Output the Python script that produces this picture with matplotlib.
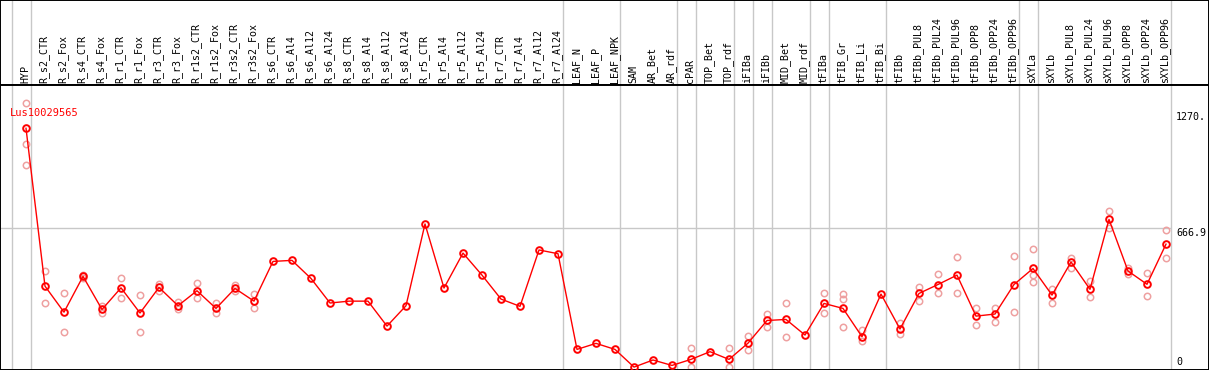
import numpy as np
import matplotlib
matplotlib.use("Agg")
import matplotlib.pyplot as plt

# =========================
# data
# =========================
samples = ["HYP", "R_s2_CTR", "R_s2_Fox", "R_s4_CTR", "R_s4_Fox", "R_r1_CTR", "R_r1_Fox",
           "R_r3_CTR", "R_r3_Fox", "R_r1s2_CTR", "R_r1s2_Fox", "R_r3s2_CTR", "R_r3s2_Fox",
           "R_s6_CTR", "R_s6_Al4", "R_s6_Al12", "R_s6_Al24", "R_s8_CTR", "R_s8_Al4",
           "R_s8_Al12", "R_s8_Al24", "R_r5_CTR", "R_r5_Al4", "R_r5_Al12", "R_r5_Al24",
           "R_r7_CTR", "R_r7_Al4", "R_r7_Al12", "R_r7_Al24", "LEAF_N", "LEAF_P", "LEAF_NPK",
           "SAM", "AR_Bet", "AR_rdf", "cPAR", "TOP_Bet", "TOP_rdf", "iFIBa", "iFIBb",
           "MID_Bet", "MID_rdf", "tFIBa", "tFIB_Gr", "tFIB_Li", "tFIB_Bi", "tFIBb",
           "tFIBb_PUL8", "tFIBb_PUL24", "tFIBb_PUL96", "tFIBb_OPP8", "tFIBb_OPP24",
           "tFIBb_OPP96", "sXYLa", "sXYLb", "sXYLb_PUL8", "sXYLb_PUL24", "sXYLb_PUL96",
           "sXYLb_OPP8", "sXYLb_OPP24", "sXYLb_OPP96"]

mean_vals = [1148, 389, 264, 436, 277, 381, 260, 383, 295, 367, 282, 378, 317,
             508, 513, 426, 308, 317, 317, 197, 295, 688, 380, 548, 442, 327, 292, 563, 545,
             85, 114, 85, 0, 34, 8, 37, 74, 37, 115, 224, 229, 154, 306, 282, 146, 351,
             183, 354, 397, 442, 245, 255, 397, 474, 346, 505, 374, 710, 462, 398, 591]

replicates = [[1270, 1071, 970], [463, 306], [354, 171], [442, 430], [293, 258],
              [426, 333], [345, 167], [399, 365], [314, 277], [402, 333], [306, 258],
              [397, 365], [351, 285],
              [], [], [], [], [], [], [], [], [], [], [], [], [], [], [], [],
              [], [], [], [], [], [],
              [90, 0], [], [90, 0], [149, 80], [255, 191], [309, 146], [], [354, 261],
              [349, 325, 191], [178, 125], [], [210, 157], [386, 320], [446, 354],
              [527, 354], [282, 200], [282, 218], [534, 264], [566, 442, 410], [375, 310],
              [525, 477], [413, 338], [749, 667], [475, 447], [450, 343], [657, 523]]

# group boundaries (index of last sample in a group)
group_ends = [-1, 0, 28, 31, 34, 35, 37, 38, 39, 41, 42, 45, 52, 53, 60]

gene_id = "Lus10029565"
tick_vals = [1270, 666.9, 0]
tick_text = ["1270.", "666.9", "0"]

# =========================
# layout
# =========================
plt.rcParams['font.family'] = ['DejaVu Sans Mono']
W, H = 1209, 370
fig = plt.figure(figsize=(W / 100, H / 100), dpi=100)

head_h = 85
x_lo = -26 / 19
x_hi = (W - 26) / 19

ax_h = fig.add_axes([0, (H - head_h) / H, 1, head_h / H])
ax = fig.add_axes([0, 0, 1, (H - head_h) / H])

for a in (ax_h, ax):
    a.set_xlim(x_lo, x_hi)
    a.set_xticks([])
    a.set_yticks([])
    for s in a.spines.values():
        s.set_color("black")
        s.set_linewidth(1.4)

ax_h.set_ylim(0, 1)
ax.set_ylim(-14, 1356)

x = np.arange(len(samples))
sep_x = [g + 0.24 for g in group_ends]

# separators
for sx in sep_x:
    ax.axvline(sx, color="#c8c8c8", lw=1.0, zorder=0)
    ax_h.axvline(sx, color="#c8c8c8", lw=1.0, zorder=0)

ax.hlines(666.9, x_lo, sep_x[-1], color="#c8c8c8", lw=1.0, zorder=0)

# sample labels
for i, name in enumerate(samples):
    ax_h.text(i - 0.05, 0.02, name, rotation=90, ha="center", va="bottom",
              fontsize=7.2, color="black")

# replicates
for i, reps in enumerate(replicates):
    if reps:
        ax.plot([i] * len(reps), reps, "o", mfc="none", mec="#eea0a0", ms=4.6,
                mew=1.1, ls="none", zorder=2)

# mean line
ax.plot(x, mean_vals, "-", color="red", lw=1.0, zorder=3)
ax.plot(x, mean_vals, "o", mfc="none", mec="red", ms=4.8, mew=1.4, ls="none", zorder=4)

ax.text(-0.85, 1220, gene_id, color="red", fontsize=7.5, ha="left", va="center")

# y labels on the right
tick_y = [1203, 646, 25]
for v, t, ty in zip(tick_vals, tick_text, tick_y):
    ax.text(sep_x[-1] + 0.3, ty, t, fontsize=7.2, ha="left", va="center", color="black")

fig.savefig("out.png", dpi=100)
